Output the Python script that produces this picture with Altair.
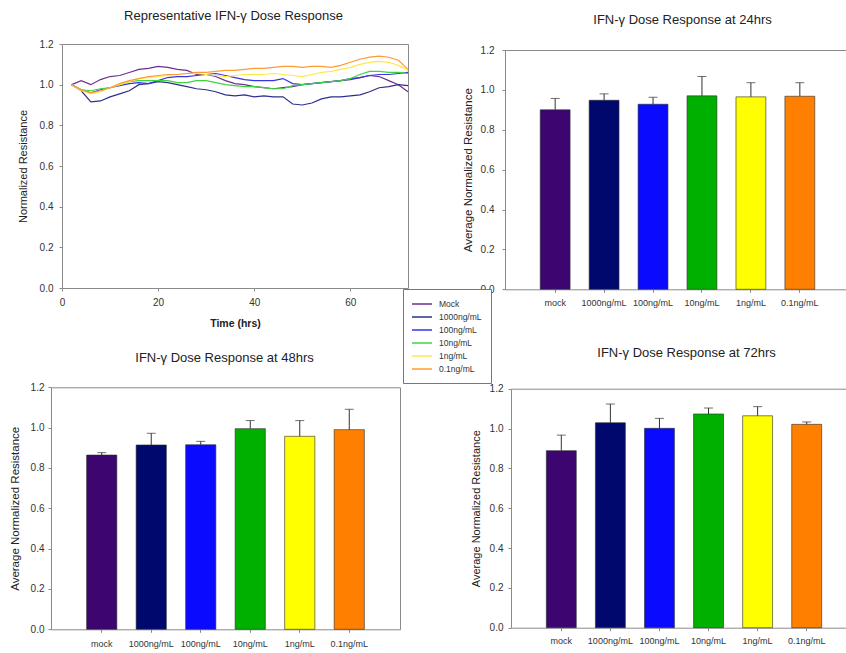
import altair as alt
import pandas as pd

FONT = "Liberation Sans"
W, H = 846, 653
GRAY = "#8a8a8a"

# ---------------- data: representative time course ----------------
hours = [2, 4, 6, 8, 10, 12, 14, 16, 18, 20, 22, 24, 26, 28, 30, 32, 34, 36,
         38, 40, 42, 44, 46, 48, 50, 52, 54, 56, 58, 60, 62, 64, 66, 68, 70, 72]
series_names = ["Mock", "1000ng/mL", "100ng/mL", "10ng/mL", "1ng/mL", "0.1ng/mL"]

mock = [1.00, 1.02, 1.00, 1.025, 1.04, 1.045, 1.06, 1.075, 1.08, 1.09, 1.085, 1.075,
        1.07, 1.05, 1.05, 1.04, 1.02, 1.005, 1.00, 0.99, 0.985, 0.98, 0.985, 0.99,
        1.00, 1.005, 1.01, 1.015, 1.02, 1.025, 1.035, 1.045, 1.04, 1.02, 1.00, 0.965]
n1000 = [1.00, 0.97, 0.915, 0.92, 0.94, 0.955, 0.97, 1.00, 1.005, 1.015, 1.01, 1.00,
         0.99, 0.98, 0.975, 0.965, 0.95, 0.945, 0.95, 0.94, 0.945, 0.94, 0.94, 0.905,
         0.90, 0.91, 0.93, 0.94, 0.94, 0.945, 0.95, 0.965, 0.985, 0.99, 1.00, 0.995]
n100 = [1.00, 0.975, 0.96, 0.975, 0.985, 0.995, 1.005, 1.01, 1.005, 1.02, 1.035, 1.04,
        1.04, 1.045, 1.05, 1.055, 1.045, 1.035, 1.025, 1.02, 1.02, 1.02, 1.03, 1.005,
        1.00, 1.005, 1.01, 1.015, 1.02, 1.03, 1.035, 1.045, 1.05, 1.05, 1.055, 1.06]
n10 = [1.00, 0.975, 0.97, 0.98, 0.985, 1.00, 1.015, 1.02, 1.02, 1.02, 1.02, 1.01,
       1.01, 1.02, 1.02, 1.01, 1.00, 0.995, 0.99, 0.99, 0.985, 0.98, 0.98, 0.995,
       1.00, 1.005, 1.01, 1.015, 1.02, 1.03, 1.05, 1.065, 1.065, 1.06, 1.06, 1.055]
n1 = [1.00, 0.97, 0.955, 0.965, 0.985, 1.00, 1.015, 1.03, 1.035, 1.04, 1.045, 1.05,
      1.055, 1.055, 1.05, 1.045, 1.04, 1.045, 1.05, 1.05, 1.05, 1.055, 1.05, 1.045,
      1.04, 1.05, 1.06, 1.065, 1.075, 1.085, 1.10, 1.11, 1.115, 1.11, 1.095, 1.07]
n01 = [1.00, 0.975, 0.96, 0.97, 0.985, 1.005, 1.02, 1.03, 1.04, 1.045, 1.05, 1.05,
       1.055, 1.06, 1.06, 1.065, 1.07, 1.07, 1.075, 1.08, 1.08, 1.085, 1.09, 1.09,
       1.085, 1.09, 1.09, 1.085, 1.095, 1.11, 1.125, 1.135, 1.14, 1.135, 1.12, 1.075]
line_colors = ["#6e2f8f", "#2e2e8f", "#3535e6", "#3fd43f", "#ffe94a", "#ff9a33"]

# ---------------- data: bar charts ----------------
bar_labels = ["mock", "1000ng/mL", "100ng/mL", "10ng/mL", "1ng/mL", "0.1ng/mL"]
bar_colors = ["#3c0570", "#00086e", "#0a0aff", "#00b000", "#ffff00", "#ff8000"]

mean_24 = [0.900, 0.948, 0.928, 0.970, 0.965, 0.968]
upper_24 = [0.957, 0.980, 0.963, 1.067, 1.036, 1.036]
mean_48 = [0.864, 0.914, 0.915, 0.995, 0.957, 0.990]
upper_48 = [0.876, 0.972, 0.932, 1.035, 1.035, 1.091]
mean_72 = [0.889, 1.029, 1.001, 1.073, 1.064, 1.021]
upper_72 = [0.967, 1.123, 1.051, 1.103, 1.110, 1.033]

y_ticks = [0.0, 0.2, 0.4, 0.6, 0.8, 1.0, 1.2]


# ---------------- panel A: line chart ----------------
def line_panel():
    left, right, top, bottom = 62, 408, 44, 288
    rows = []
    for name, vals in zip(series_names, [mock, n1000, n100, n10, n1, n01]):
        for h, v in zip(hours, vals):
            rows.append({"hours": h, "value": v, "series": name})
    df = pd.DataFrame(rows)
    xs = alt.Scale(domain=[0, 72], range=[left, right], nice=False, zero=False)
    ys = alt.Scale(domain=[0, 1.2], range=[bottom, top], nice=False, zero=False)

    lines = alt.Chart(df).mark_line(strokeWidth=1.2).encode(
        x=alt.X("hours:Q", scale=xs, axis=alt.Axis(
            orient="bottom", offset=bottom - H, values=[0, 20, 40, 60], format="d",
            title="Time (hrs)", titleFontWeight="bold", titleFontSize=10.5,
            titleBaseline="alphabetic", titleY=38.8, labelFontSize=10, labelPadding=6)),
        y=alt.Y("value:Q", scale=ys, axis=alt.Axis(
            orient="left", offset=-left, values=y_ticks, format=".1f",
            title="Normalized Resistance", titleFontSize=11, titleX=-38.7,
            titleBaseline="middle", labelFontSize=10, labelPadding=6)),
        color=alt.Color("series:N", scale=alt.Scale(domain=series_names, range=line_colors),
                        legend=alt.Legend(
                            orient="none", legendX=403, legendY=289, title=None,
                            symbolType="M-2,0H2", symbolSize=100, symbolStrokeWidth=1.5,
                            labelFont=FONT, labelFontSize=8.5, labelColor="#333333",
                            padding=9, rowPadding=2, symbolOffset=4, labelOffset=11,
                            strokeColor="#777777", fillColor="white")),
    )
    frame = alt.Chart(df).mark_line(strokeOpacity=0).encode(
        x=alt.X("hours:Q", axis=alt.Axis(
            orient="top", offset=-top, labels=False, ticks=False,
            title="Representative IFN-\u03b3 Dose Response", titleFontSize=13,
            titleBaseline="alphabetic", titleX=233, titleY=19.3 - top)),
        y=alt.Y("value:Q", axis=alt.Axis(
            orient="right", offset=right - W, labels=False, ticks=False, title=None)),
        detail="series:N",
    )
    return alt.layer(lines, frame).resolve_axis(x="independent", y="independent")


# ---------------- panels B, C, D: bar charts ----------------
def bar_panel(means, uppers, title, left, right, top, bottom, title_x, title_base,
              ytitle_x, ytitle_size, ylab_pad, xlab_pad):
    df = pd.DataFrame({"dose": bar_labels, "mean": means, "upper": uppers})
    xs = alt.Scale(domain=bar_labels, range=[left, right], paddingInner=0.39, paddingOuter=0.72)
    ys = alt.Scale(domain=[0, 1.2], range=[bottom, top], nice=False, zero=False)

    bars = alt.Chart(df).mark_bar(stroke="#2a2a2a", strokeWidth=0.6).encode(
        x=alt.X("dose:N", scale=xs, axis=alt.Axis(
            orient="bottom", offset=bottom - H, title=None, labelAngle=0,
            labelFontSize=9, labelPadding=xlab_pad)),
        y=alt.Y("mean:Q", scale=ys, axis=alt.Axis(
            orient="left", offset=-left, values=y_ticks, format=".1f",
            title="Average Normalized Resistance", titleFontSize=ytitle_size,
            titleX=ytitle_x, titleBaseline="middle", labelFontSize=10,
            labelPadding=ylab_pad)),
        color=alt.Color("dose:N", scale=alt.Scale(domain=bar_labels, range=bar_colors),
                        legend=None),
    )
    err = alt.Chart(df).mark_rule(color="#333333", strokeWidth=1).encode(
        x=alt.X("dose:N", axis=alt.Axis(
            orient="top", offset=-top, labels=False, ticks=False, title=title,
            titleFontSize=13, titleBaseline="alphabetic", titleX=title_x,
            titleY=title_base - top)),
        y=alt.Y("mean:Q", axis=alt.Axis(
            orient="right", offset=right - W, labels=False, ticks=False, title=None)),
        y2="upper:Q",
    )
    caps = alt.Chart(df).mark_tick(color="#333333", size=9, thickness=1).encode(
        x=alt.X("dose:N", axis=None),
        y=alt.Y("upper:Q", axis=None),
    )
    return alt.layer(bars, err, caps).resolve_axis(x="independent", y="independent")


panel_a = line_panel()
panel_b = bar_panel(mean_24, upper_24, "IFN-\u03b3 Dose Response at 24hrs",
                    505, 850, 50, 289.3, 682, 23.3, -36.7, 11.5, 8, 6)
panel_c = bar_panel(mean_48, upper_48, "IFN-\u03b3 Dose Response at 48hrs",
                    51, 400, 387.3, 629.3, 224, 361, -36, 11.5, 4, 7)
panel_d = bar_panel(mean_72, upper_72, "IFN-\u03b3 Dose Response at 72hrs",
                    511, 857, 388.7, 627.7, 686, 356.6, -34.3, 11, 5, 6)

chart = alt.layer(panel_b, panel_c, panel_d, panel_a).resolve_scale(
    x="independent", y="independent", color="independent"
).properties(
    width=W, height=H, padding=0, autosize=alt.AutoSizeParams(type="none")
).configure_view(
    stroke=None
).configure_axis(
    grid=False, domainColor=GRAY, tickColor=GRAY, tickSize=3, domainWidth=1,
    labelFont=FONT, titleFont=FONT, labelColor="#333333", titleColor="#222222",
    titleFontWeight="normal", labelOverlap=False, labelFlush=False
)

chart.save("out.html", embed_options={"renderer": "svg", "actions": False})
